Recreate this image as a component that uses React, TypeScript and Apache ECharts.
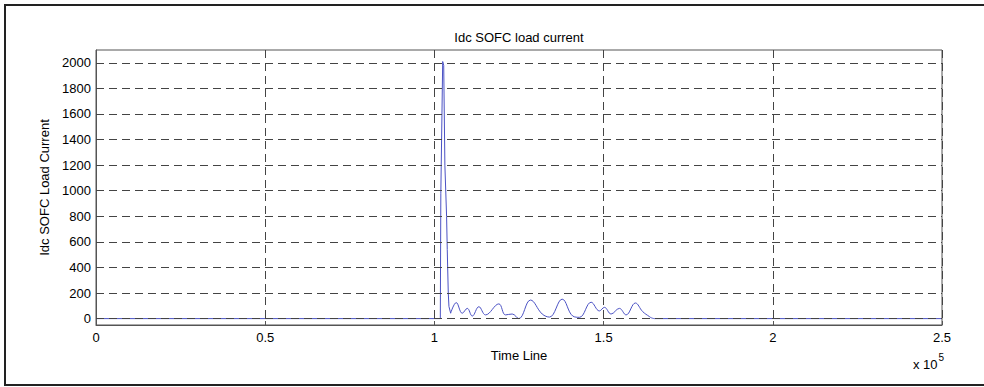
import React, { useEffect, useRef } from "react";
import * as echarts from "echarts";

// Time (s) / current (A)
const baselineData: [number, number][] = [
  [0, 0],
  [101750, 0],
];
const spikeData: [number, number][] = [
  [101750, 0],
  [101900, 980],
  [102450, 2010],
  [102750, 1980],
  [103100, 1200],
  [103600, 800],
  [103800, 540],
  [104100, 200],
  [104300, 95],
  [104800, 42],
];
const oscillationData: [number, number][] = [
  [104800, 42],
  [106460, 125],
  [108230, 42],
  [109710, 80],
  [111190, 20],
  [113140, 93],
  [115110, 29],
  [119040, 115],
  [121010, 29],
  [122990, 36],
  [124940, 0],
  [128390, 145],
  [131850, 36],
  [134000, 12],
  [137750, 152],
  [140880, 20],
  [142860, 10],
  [146310, 128],
  [148760, 60],
  [150240, 88],
  [152210, 36],
  [154660, 80],
  [156640, 29],
  [159390, 122],
  [161540, 55],
  [163520, 16],
  [164200, 5],
  [165000, 0],
];
const tailData: [number, number][] = [
  [165000, 0],
  [250000, 0],
];
const yGridValues = [0, 200, 400, 600, 800, 1000, 1200, 1400, 1600, 1800, 2000];
const xTickFormatter = (v: number) => String(v / 100000);

const FONT = "'Liberation Sans', Arial, Helvetica, sans-serif";
const LINE_COLOR = "#4b52c4";
const GRID_DASH = { type: [8, 5] as number[], color: "#444", width: 1 };

export default function App() {
  const ref = useRef<HTMLDivElement>(null);
  useEffect(() => {
    if (!ref.current) return;
    const chart = echarts.init(ref.current, undefined, { renderer: "svg" });
    const lineBase = {
      type: "line" as const,
      showSymbol: false,
      symbol: "none",
      lineStyle: { color: LINE_COLOR, width: 1 },
      itemStyle: { color: LINE_COLOR },
      silent: true,
    };
    chart.setOption({
      animation: false,
      backgroundColor: "#ffffff",
      textStyle: { fontFamily: FONT },
      grid: {
        left: 96,
        top: 50,
        right: 42,
        bottom: 62,
        show: true,
        borderColor: "#555",
        borderWidth: 1,
        backgroundColor: "transparent",
      },
      xAxis: {
        type: "value",
        min: 0,
        max: 250000,
        interval: 50000,
        name: "Time Line",
        nameLocation: "middle",
        nameGap: 21,
        nameTextStyle: { color: "#000", fontSize: 13, fontFamily: FONT },
        axisLine: { show: true, onZero: false, lineStyle: { color: "#555" } },
        axisTick: { show: true, inside: true, length: 4, lineStyle: { color: "#555" } },
        axisLabel: {
          color: "#000",
          fontSize: 13,
          fontFamily: FONT,
          margin: 6,
          formatter: xTickFormatter,
        },
        splitLine: { show: true, lineStyle: GRID_DASH },
      },
      yAxis: {
        type: "value",
        min: -50,
        max: 2100,
        interval: 50,
        name: "Idc SOFC Load Current",
        nameLocation: "middle",
        nameGap: 34,
        nameRotate: 90,
        nameTextStyle: { color: "#000", fontSize: 13, fontFamily: FONT },
        axisLine: { show: true, onZero: false, lineStyle: { color: "#555" } },
        axisTick: { show: false },
        axisLabel: {
          color: "#000",
          fontSize: 13,
          fontFamily: FONT,
          margin: 5,
          formatter: (v: number) => (v >= 0 && v % 200 === 0 ? String(v) : ""),
        },
        splitLine: { show: false },
      },
      graphic: [
        {
          type: "rect",
          shape: { x: 5, y: 5, width: 1200, height: 380 },
          style: { fill: "none", stroke: "#222", lineWidth: 2 },
          silent: true,
          z: 100,
        },
        {
          type: "text",
          x: 519,
          y: 37,
          style: {
            text: "Idc SOFC load current",
            fill: "#000",
            font: `13px ${FONT}`,
            textAlign: "center",
            textVerticalAlign: "middle",
          },
        },
        {
          type: "text",
          x: 913,
          y: 350,
          style: {
            text: "{a|x 10}{b|5}",
            rich: {
              a: { fontSize: 13, fontFamily: FONT, fill: "#000", color: "#000", padding: [8, 0, 0, 0] },
              b: { fontSize: 10, fontFamily: FONT, fill: "#000", color: "#000", padding: [0, 0, 6, 1] },
            },
            fill: "#000",
          },
        },
      ],
      series: [
        {
          ...lineBase,
          name: "tail",
          data: tailData,
          z: 2,
          markLine: {
            silent: true,
            symbol: ["none", "none"],
            label: { show: false },
            lineStyle: GRID_DASH,
            emphasis: { disabled: true },
            data: yGridValues.map((v) => ({ yAxis: v })),
          },
        },
        { ...lineBase, name: "baseline", data: baselineData, z: 3 },
        { ...lineBase, name: "spike", data: spikeData, z: 3 },
        { ...lineBase, name: "oscillation", data: oscillationData, smooth: 0.4, z: 3 },
      ],
    });
    return () => chart.dispose();
  }, []);
  return (
    <div
      ref={ref}
      style={{ position: "fixed", left: 0, top: 0, width: 984, height: 387, background: "#fff" }}
    />
  );
}
